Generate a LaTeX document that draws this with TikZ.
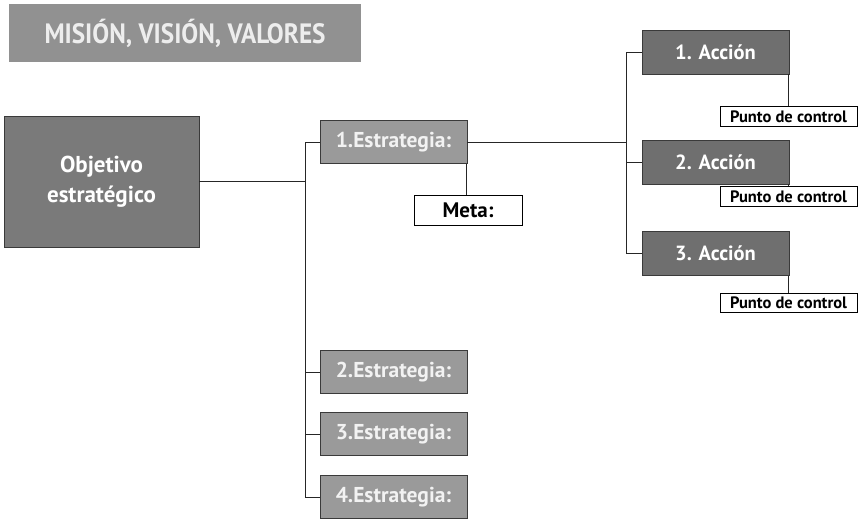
\documentclass[tikz,border=0pt]{standalone}
\usepackage{fontspec}
\setmainfont{PT Sans}
\newfontfamily\narrowfont{PT Sans}
\newfontfamily\titlefont[FakeStretch=0.9]{PT Sans}
\usepackage{xcolor}
\usepackage{tikz}
\usetikzlibrary{positioning, calc}

\definecolor{titlegray}{HTML}{919191}
\definecolor{objgray}{HTML}{7A7A7A}
\definecolor{estgray}{HTML}{9A9A9A}
\definecolor{accgray}{HTML}{6F6F6F}
\definecolor{edgegray}{HTML}{3A3A3A}

\begin{document}
\begin{tikzpicture}[x=1pt, y=-1pt,
    box/.style={rectangle, draw=edgegray, line width=0.8pt, inner sep=0pt, align=center, font=\narrowfont\bfseries},
    title/.style={rectangle, fill=titlegray, inner sep=0pt, text=black!7, font=\titlefont\bfseries\fontsize{28}{30}\selectfont},
    goal/.style={box, fill=objgray, text=white, minimum width=195pt, minimum height=131pt, font=\narrowfont\bfseries\fontsize{23}{30}\selectfont},
    strat/.style={box, fill=estgray, text=black!5, minimum width=147pt, minimum height=43pt, font=\narrowfont\bfseries\fontsize{21.5}{24}\selectfont},
    action/.style={box, fill=accgray, text=white, minimum width=147pt, minimum height=44pt, font=\narrowfont\bfseries\fontsize{20.5}{24}\selectfont},
    target/.style={box, fill=white, text=black, draw=black, minimum width=108pt, minimum height=30pt, font=\narrowfont\bfseries\fontsize{21}{23}\selectfont},
    check/.style={box, fill=white, text=black, draw=black, minimum width=137pt, minimum height=19.5pt, font=\narrowfont\bfseries\fontsize{16.5}{18}\selectfont},
    link/.style={draw=black!85, line width=0.9pt}
]
    \useasboundingbox (0,0) rectangle (859,522);

    \node[title, minimum width=352pt, minimum height=58pt] (mision) at (185,33) {MISIÓN, VISIÓN, VALORES};

    \node[goal] (objetivo) at (101.5,181.5) {Objetivo\\estratégico};

    \node[strat] (est1) at (393.5,142) {1.Estrategia:};
    \node[strat] (est2) at (393.5,372) {2.Estrategia:};
    \node[strat] (est3) at (393.5,434) {3.Estrategia:};
    \node[strat] (est4) at (393.5,497) {4.Estrategia:};

    \node[target] (meta) at (468,210) {Meta:};

    \node[action] (acc1) at (715.5,52) {1. Acción};
    \node[action] (acc2) at (715.5,162) {2. Acción};
    \node[action] (acc3) at (715.5,253.5) {3. Acción};

    \node[check] (punto1) at (788.5,116.5) {Punto de control};
    \node[check] (punto2) at (788.5,196.5) {Punto de control};
    \node[check] (punto3) at (788.5,303) {Punto de control};

    % tree lines
    \coordinate (trunktop) at (305,142);
    \coordinate (trunkbot) at (305,497);
    \coordinate (acctop) at (626,52);
    \coordinate (accbot) at (626,253.5);

    \draw[link] (objetivo.east) -- (objetivo.east -| trunktop);
    \draw[link] (trunktop) -- (trunkbot);
    \draw[link] (est1.west -| trunktop) -- (est1.west);
    \draw[link] (est2.west -| trunktop) -- (est2.west);
    \draw[link] (est3.west -| trunktop) -- (est3.west);
    \draw[link] (est4.west -| trunktop) -- (est4.west);

    \draw[link] ([xshift=-1pt]est1.south east) -- ([xshift=-1pt]est1.south east |- meta.north);

    \draw[link] (est1.east) -- (est1.east -| acctop);
    \draw[link] (acctop) -- (accbot);
    \draw[link] (acc1.west -| acctop) -- (acc1.west);
    \draw[link] (acc2.west -| acctop) -- (acc2.west);
    \draw[link] (acc3.west -| acctop) -- (acc3.west);

    \draw[link] ([xshift=-1pt]acc1.south east) -- ([xshift=-1pt]acc1.south east |- punto1.north);
    \draw[link] ([xshift=-1pt]acc2.south east) -- ([xshift=-1pt]acc2.south east |- punto2.north);
    \draw[link] ([xshift=-1pt]acc3.south east) -- ([xshift=-1pt]acc3.south east |- punto3.north);
\end{tikzpicture}
\end{document}
